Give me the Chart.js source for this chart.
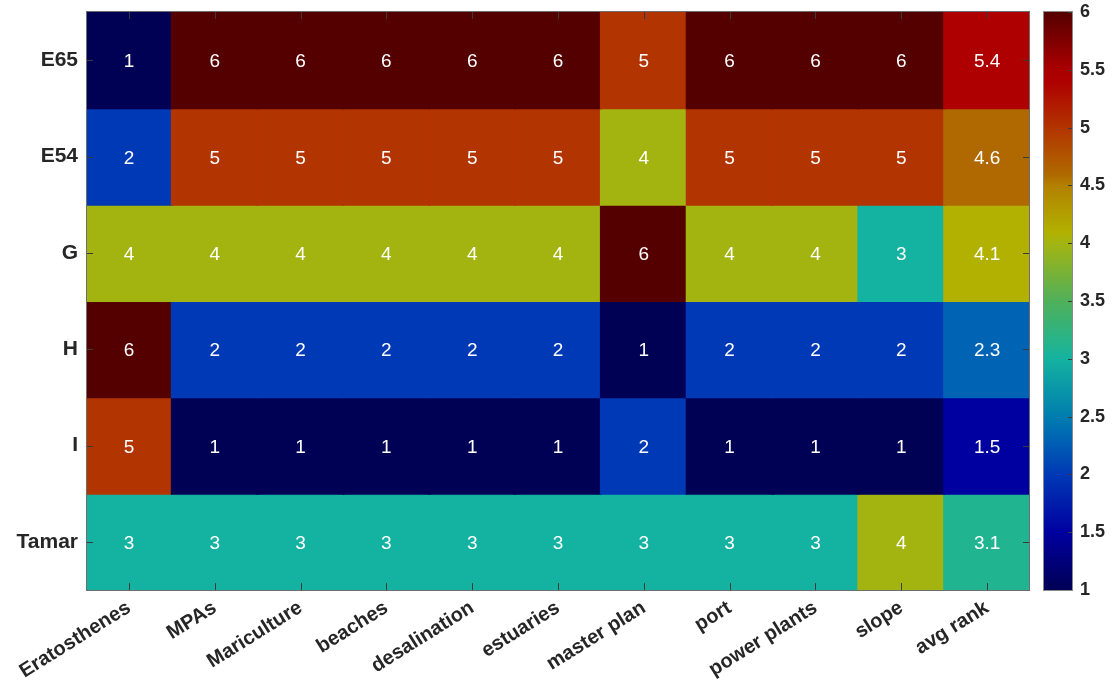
<!DOCTYPE html>
<html>
<head>
<meta charset="utf-8">
<script src="https://cdn.jsdelivr.net/npm/chart.js@4"></script>
<style>
  html, body { margin: 0; padding: 0; background: #fff; }
  #wrap { position: relative; width: 1113px; height: 685px; }
  #heat { position: absolute; left: 0; top: 0; }
  #bar { position: absolute; left: 1035px; top: 0; }
</style>
</head>
<body>
<div id="wrap">
  <canvas id="heat" width="1035" height="685"></canvas>
  <canvas id="bar" width="78" height="685"></canvas>
</div>
<script>
// Sites (rows, top to bottom) and criteria (columns)
const sites = ['E65', 'E54', 'G', 'H', 'I', 'Tamar'];
const criteria = ['Eratosthenes', 'MPAs', 'Mariculture', 'beaches', 'desalination',
  'estuaries', 'master plan', 'port', 'power plants', 'slope', 'avg rank'];

// Rank of each site under each criterion (last entry = average rank)
const rankE65   = [1, 6, 6, 6, 6, 6, 5, 6, 6, 6, 5.4];
const rankE54   = [2, 5, 5, 5, 5, 5, 4, 5, 5, 5, 4.6];
const rankG     = [4, 4, 4, 4, 4, 4, 6, 4, 4, 3, 4.1];
const rankH     = [6, 2, 2, 2, 2, 2, 1, 2, 2, 2, 2.3];
const rankI     = [5, 1, 1, 1, 1, 1, 2, 1, 1, 1, 1.5];
const rankTamar = [3, 3, 3, 3, 3, 3, 3, 3, 3, 4, 3.1];
const ranks = [rankE65, rankE54, rankG, rankH, rankI, rankTamar];

// Colour bar range and tick step
const cMin = 1, cMax = 6, cStep = 0.5;

// Colormap stops: [value, r, g, b]
const cmap = [
  [1.0,   0,   0,  85],
  [1.5,   0,   0, 160],
  [2.0,   0,  57, 181],
  [2.3,   0,  99, 180],
  [2.5,   0, 125, 175],
  [3.0,  20, 178, 160],
  [3.1,  32, 180, 145],
  [3.5,  80, 176,  90],
  [4.0, 163, 180,  17],
  [4.1, 178, 176,   0],
  [4.5, 178, 128,   0],
  [4.6, 176, 104,   0],
  [5.0, 178,  52,   0],
  [5.4, 174,   0,   0],
  [5.5, 170,   0,   0],
  [6.0,  85,   0,   0]
];

function colorFor(v) {
  if (v <= cmap[0][0]) return `rgb(${cmap[0][1]},${cmap[0][2]},${cmap[0][3]})`;
  for (let i = 1; i < cmap.length; i++) {
    const a = cmap[i - 1], b = cmap[i];
    if (v <= b[0]) {
      const t = (v - a[0]) / (b[0] - a[0]);
      const c = [1, 2, 3].map(k => Math.round(a[k] + (b[k] - a[k]) * t));
      return `rgb(${c[0]},${c[1]},${c[2]})`;
    }
  }
  const l = cmap[cmap.length - 1];
  return `rgb(${l[1]},${l[2]},${l[3]})`;
}

const FONT = "'Liberation Sans', Arial, Helvetica, sans-serif";
const INK = '#262626';

// One floating-bar dataset per site row, spanning row index ± 0.5
const datasets = sites.map((site, r) => ({
  label: site,
  data: criteria.map((c, j) => ({ x: c, y: [r - 0.5, r + 0.5], v: ranks[r][j] })),
  backgroundColor: ctx => colorFor(ctx.raw ? ctx.raw.v : cMin),
  borderWidth: 0,
  inflateAmount: 1,
  barPercentage: 1,
  categoryPercentage: 1,
  grouped: false
}));

// Writes each cell's rank in its centre
const cellText = {
  id: 'cellText',
  afterDatasetsDraw(chart) {
    const ctx = chart.ctx;
    ctx.save();
    ctx.fillStyle = '#ffffff';
    ctx.font = `19px ${FONT}`;
    ctx.textAlign = 'center';
    ctx.textBaseline = 'middle';
    chart.data.datasets.forEach((ds, di) => {
      chart.getDatasetMeta(di).data.forEach((el, i) => {
        const v = ds.data[i].v;
        ctx.fillText(String(v), el.x, (el.y + el.base) / 2 + 2);
      });
    });
    ctx.restore();
  }
};

// Box outline and inward tick marks on all four sides
const boxTicks = {
  id: 'boxTicks',
  afterDraw(chart) {
    const { ctx, chartArea: a, scales } = chart;
    const len = 7;
    ctx.save();
    ctx.strokeStyle = '#3a3a3a';
    ctx.lineWidth = 1;
    ctx.beginPath();
    criteria.forEach((c, i) => {
      const x = Math.round(scales.x.getPixelForTick(i)) + 0.5;
      ctx.moveTo(x, a.top); ctx.lineTo(x, a.top + len);
      ctx.moveTo(x, a.bottom); ctx.lineTo(x, a.bottom - len);
    });
    sites.forEach((s, i) => {
      const y = Math.round(scales.y.getPixelForValue(i)) + 0.5;
      ctx.moveTo(a.left, y); ctx.lineTo(a.left + len, y);
      ctx.moveTo(a.right, y); ctx.lineTo(a.right - len, y);
    });
    ctx.stroke();
    ctx.strokeStyle = '#6e6e6e';
    ctx.strokeRect(Math.round(a.left) + 0.5, Math.round(a.top) - 0.5,
      Math.round(a.right - a.left) - 1, Math.round(a.bottom - a.top) + 1);
    ctx.restore();
  }
};

new Chart(document.getElementById('heat'), {
  type: 'bar',
  data: { labels: criteria, datasets },
  options: {
    responsive: false,
    animation: false,
    layout: { padding: { top: 12, right: 5, left: 0, bottom: 0 } },
    plugins: { legend: { display: false }, tooltip: { enabled: false } },
    scales: {
      x: {
        type: 'category',
        grid: { display: false, drawTicks: false },
        border: { display: false },
        ticks: {
          color: INK,
          font: { family: FONT, size: 20, weight: 'bold' },
          minRotation: 32,
          maxRotation: 32,
          padding: 6,
          autoSkip: false
        },
        afterFit(scale) { scale.height = 95; scale.paddingLeft = 0; scale.paddingRight = 0; }
      },
      y: {
        type: 'linear',
        reverse: true,
        min: -0.5,
        max: sites.length - 0.5,
        grid: { display: false, drawTicks: false },
        border: { display: false },
        afterBuildTicks(scale) { scale.ticks = sites.map((s, i) => ({ value: i })); },
        ticks: {
          color: INK,
          font: { family: FONT, size: 21, weight: 'bold' },
          padding: 8,
          callback: v => sites[v]
        },
        afterFit(scale) { scale.width = 86; scale.paddingTop = 0; scale.paddingBottom = 0; }
      }
    }
  },
  plugins: [cellText, boxTicks]
});

// Colour bar: one bar from cMin to cMax filled with the colormap
const barFrame = {
  id: 'barFrame',
  afterDraw(chart) {
    const { ctx, chartArea: a, scales } = chart;
    ctx.save();
    ctx.strokeStyle = '#3a3a3a';
    ctx.beginPath();
    for (let v = cMin; v <= cMax + 1e-9; v += cStep) {
      const y = Math.round(scales.y.getPixelForValue(v)) + 0.5;
      ctx.moveTo(a.right, y); ctx.lineTo(a.right - 5, y);
    }
    ctx.stroke();
    ctx.strokeStyle = '#8a8a8a';
    ctx.strokeRect(Math.round(a.left) + 0.5, Math.round(a.top) - 0.5,
      Math.round(a.right - a.left) - 1, Math.round(a.bottom - a.top) + 1);
    ctx.restore();
  }
};

new Chart(document.getElementById('bar'), {
  type: 'bar',
  data: {
    labels: ['rank'],
    datasets: [{
      data: [[cMin, cMax]],
      borderWidth: 0,
      barPercentage: 1,
      categoryPercentage: 1,
      backgroundColor(ctx) {
        const chart = ctx.chart;
        if (!chart.chartArea) return 'transparent';
        const ys = chart.scales.y;
        const y0 = ys.getPixelForValue(cMin), y1 = ys.getPixelForValue(cMax);
        const g = chart.ctx.createLinearGradient(0, y0, 0, y1);
        cmap.forEach(s => g.addColorStop((s[0] - cMin) / (cMax - cMin), `rgb(${s[1]},${s[2]},${s[3]})`));
        return g;
      }
    }]
  },
  options: {
    responsive: false,
    animation: false,
    layout: { padding: { top: 12, bottom: 95, left: 8, right: 0 } },
    plugins: { legend: { display: false }, tooltip: { enabled: false } },
    scales: {
      x: { display: false, offset: true },
      y: {
        type: 'linear',
        position: 'right',
        min: cMin,
        max: cMax,
        grid: { display: false, drawTicks: false },
        border: { display: false },
        ticks: {
          stepSize: cStep,
          color: INK,
          font: { family: FONT, size: 18, weight: 'bold' },
          padding: 7,
          callback: v => Number.isInteger(v) ? String(v) : v.toFixed(1)
        },
        afterFit(scale) { scale.width = 40; scale.paddingTop = 0; scale.paddingBottom = 0; }
      }
    }
  },
  plugins: [barFrame]
});
</script>
</body>
</html>
